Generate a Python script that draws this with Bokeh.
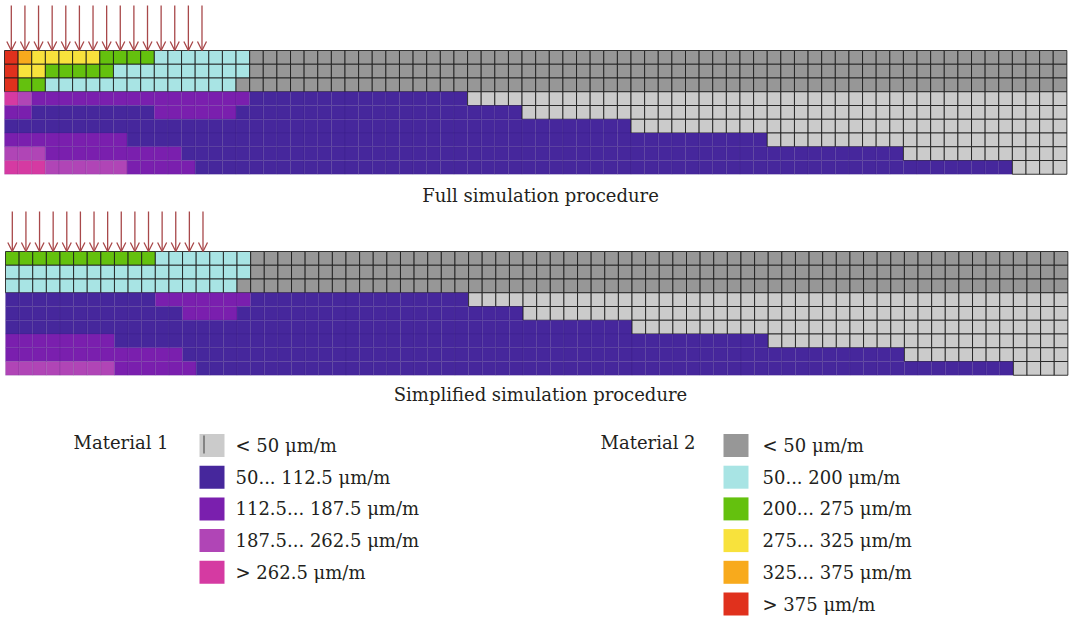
from bokeh.plotting import figure
from bokeh.models import ColumnDataSource, Range1d, Arrow, OpenHead, Label
from bokeh.embed import file_html
from bokeh.resources import INLINE

# ---- strain classes -------------------------------------------------------
M1_TITLE = "Material 1"
M2_TITLE = "Material 2"
M1_LABELS = ["< 50 μm/m", "50... 112.5 μm/m", "112.5... 187.5 μm/m",
             "187.5... 262.5 μm/m", "> 262.5 μm/m"]
M2_LABELS = ["< 50 μm/m", "50... 200 μm/m", "200... 275 μm/m",
             "275... 325 μm/m", "325... 375 μm/m", "> 375 μm/m"]
M1_COLORS = ["#cbcbcb", "#46279c", "#7a1fae", "#b045b6", "#d53aa2"]
M2_COLORS = ["#979797", "#a8e4e4", "#64c10e", "#f8e23c", "#f8aa1c", "#e0311d"]

# ---- strain maps: each row is a run-length list of (material, class, cells) --
# "a" = material 1 class index, "b" = material 2 class index
full_rows = [
    [("b", 5, 1), ("b", 4, 1), ("b", 3, 5), ("b", 2, 4), ("b", 1, 7), ("b", 0, 60)],
    [("b", 5, 1), ("b", 3, 2), ("b", 2, 5), ("b", 1, 10), ("b", 0, 60)],
    [("b", 5, 1), ("b", 2, 2), ("b", 1, 14), ("b", 0, 61)],
    [("a", 4, 1), ("a", 3, 1), ("a", 2, 16), ("a", 1, 16), ("a", 0, 44)],
    [("a", 2, 2), ("a", 1, 9), ("a", 2, 6), ("a", 1, 21), ("a", 0, 40)],
    [("a", 1, 46), ("a", 0, 32)],
    [("a", 2, 9), ("a", 1, 47), ("a", 0, 22)],
    [("a", 3, 3), ("a", 2, 10), ("a", 1, 53), ("a", 0, 12)],
    [("a", 4, 3), ("a", 3, 6), ("a", 2, 5), ("a", 1, 60), ("a", 0, 4)],
]
simplified_rows = [
    [("b", 2, 11), ("b", 1, 7), ("b", 0, 60)],
    [("b", 1, 18), ("b", 0, 60)],
    [("b", 1, 17), ("b", 0, 61)],
    [("a", 1, 11), ("a", 2, 7), ("a", 1, 16), ("a", 0, 44)],
    [("a", 1, 13), ("a", 2, 4), ("a", 1, 21), ("a", 0, 40)],
    [("a", 1, 46), ("a", 0, 32)],
    [("a", 2, 8), ("a", 1, 48), ("a", 0, 22)],
    [("a", 2, 13), ("a", 1, 53), ("a", 0, 12)],
    [("a", 3, 8), ("a", 2, 6), ("a", 1, 60), ("a", 0, 4)],
]
loaded_columns = 15
captions = ["Full simulation procedure", "Simplified simulation procedure"]

# ---- layout ----------------------------------------------------------------
W, H = 1070, 617
CELL_W = 13.62
CELL_H = 13.75
FONT = "DejaVu Serif"
FONT_SIZE = "18px"
TEXT_COLOR = "#231f20"
ARROW_COLOR = "#a8484a"

p = figure(width=W, height=H, output_backend="svg", toolbar_location=None,
           x_range=Range1d(0, W), y_range=Range1d(H, 0),
           min_border=0, outline_line_color=None)
p.axis.visible = False
p.grid.visible = False


def cells(rows, x0, y0):
    d = dict(left=[], right=[], top=[], bottom=[], fill=[], line=[], alpha=[])
    for r, row in enumerate(rows):
        c = 0
        for mat, cls, n in row:
            for _ in range(n):
                d["left"].append(x0 + c * CELL_W)
                d["right"].append(x0 + (c + 1) * CELL_W)
                d["top"].append(y0 + r * CELL_H)
                d["bottom"].append(y0 + (r + 1) * CELL_H)
                if mat == "a":
                    col = M1_COLORS[cls]
                    grid = cls == 0
                else:
                    col = M2_COLORS[cls]
                    grid = True
                d["fill"].append(col)
                d["line"].append("#1a1a1a" if grid else "#2a1060")
                d["alpha"].append(0.85 if grid else 0.12)
                c += 1
    return ColumnDataSource(d)


def arrows(x0, y_start, y_end):
    xs = [x0 + (i + 0.5) * CELL_W for i in range(loaded_columns)]
    src = ColumnDataSource(dict(x0=xs, y0=[y_start] * len(xs),
                                x1=xs, y1=[y_end] * len(xs)))
    p.add_layout(Arrow(source=src, x_start="x0", y_start="y0", x_end="x1", y_end="y1",
                       line_color=ARROW_COLOR, line_width=1.3,
                       end=OpenHead(size=9, line_color=ARROW_COLOR, line_width=1.3)))


panels = [(full_rows, 4, 50, 5, captions[0], 195),
          (simplified_rows, 5, 251, 211, captions[1], 394)]
for rows, x0, y0, ya, cap, ycap in panels:
    src = cells(rows, x0, y0)
    p.quad(left="left", right="right", top="top", bottom="bottom", source=src,
           fill_color="fill", line_color="line", line_alpha="alpha", line_width=1)
    arrows(x0, ya, y0)
    p.add_layout(Label(x=540, y=ycap, text=cap, text_font=FONT, text_font_size=FONT_SIZE,
                       text_color=TEXT_COLOR, text_align="center",
                       text_baseline="middle"))


# ---- legend ----------------------------------------------------------------
def legend(title, labels, colors, x_title, x_sw, x_txt):
    p.add_layout(Label(x=x_title, y=442, text=title, text_font=FONT,
                       text_font_size=FONT_SIZE, text_color=TEXT_COLOR,
                       text_baseline="middle"))
    ys = [445 + 31.7 * i for i in range(len(labels))]
    p.quad(left=[x_sw] * len(ys), right=[x_sw + 25] * len(ys),
           top=[y - 11.5 for y in ys], bottom=[y + 11.5 for y in ys],
           fill_color=colors, line_color=None)
    for y, lab in zip(ys, labels):
        p.add_layout(Label(x=x_txt, y=y, text=lab, text_font=FONT,
                           text_font_size=FONT_SIZE, text_color=TEXT_COLOR,
                           text_baseline="middle"))
    return ys


ys1 = legend(M1_TITLE, M1_LABELS, M1_COLORS, 73, 199, 235)
# grid-line mark inside the light-grey swatch
p.segment(x0=[203.5], y0=[ys1[0] - 10], x1=[203.5], y1=[ys1[0] + 8],
          line_color="#555555", line_width=1.2)
legend(M2_TITLE, M2_LABELS, M2_COLORS, 600, 723, 762)

open("out.html", "w").write(file_html(p, INLINE))
